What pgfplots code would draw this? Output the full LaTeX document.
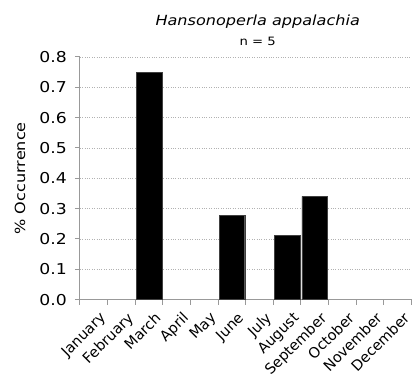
\documentclass[border=0pt]{standalone}
\usepackage{pgfplots}
\pgfplotsset{compat=1.18}
\usepackage{fontspec}
\setmainfont[FakeStretch=1.15]{DejaVu Sans}
\newfontfamily\plainsans{DejaVu Sans}
\begin{document}
\begin{tikzpicture}
\begin{axis}[
  scale only axis, width=332bp, height=243bp,
  xmin=-0.5, xmax=11.5, ymin=0, ymax=0.8,
  axis x line*=bottom, axis y line*=left,
  axis line style={draw=gray!80, line width=1bp},
  xtick={0,...,11},
  xticklabels={January,February,March,April,May,June,July,August,September,October,November,December},
  minor xtick={-0.5,0.5,...,11.5},
  major x tick style={draw=none},
  minor tick length=5bp, major tick length=5bp,
  tick align=outside,
  tick style={draw=gray!80, line width=1bp},
  xticklabel style={rotate=45, anchor=north east, font=\plainsans\fontsize{14.5bp}{15bp}\selectfont, inner sep=1bp, yshift=-7bp},
  ytick={0,0.1,...,0.8},
  yticklabel style={/pgf/number format/.cd, fixed, fixed zerofill, precision=1, /tikz/.cd, font=\fontsize{15bp}{16bp}\selectfont, inner sep=2bp, xshift=-6bp},
  /pgf/number format/assume math mode=true,
  ymajorgrids, grid style={gray!60, dotted, line width=0.7bp},
  ylabel={\% Occurrence},
  ylabel style={font=\fontsize{14bp}{15bp}\selectfont, at={([xshift=-60bp]axis description cs:0,0.5)}, anchor=center},
  ybar, bar width=0.93,
]
\addplot[fill=black, draw=gray!50!black] coordinates {
(2, 0.75)
(5, 0.278)
(7, 0.212)
(8, 0.34)
};
\end{axis}
\node[font=\itshape\fontsize{14bp}{16bp}\selectfont, anchor=base] at ([xshift=12bp,yshift=31bp]current axis.north) {Hansonoperla appalachia};
\node[font=\fontsize{11.5bp}{12bp}\selectfont, anchor=base] at ([xshift=12bp,yshift=11bp]current axis.north) {n = 5};
\path[use as bounding box] ([shift={(-80bp,-81bp)}]current axis.south west) rectangle ([shift={(0bp,57bp)}]current axis.north east);
\end{tikzpicture}
\end{document}
